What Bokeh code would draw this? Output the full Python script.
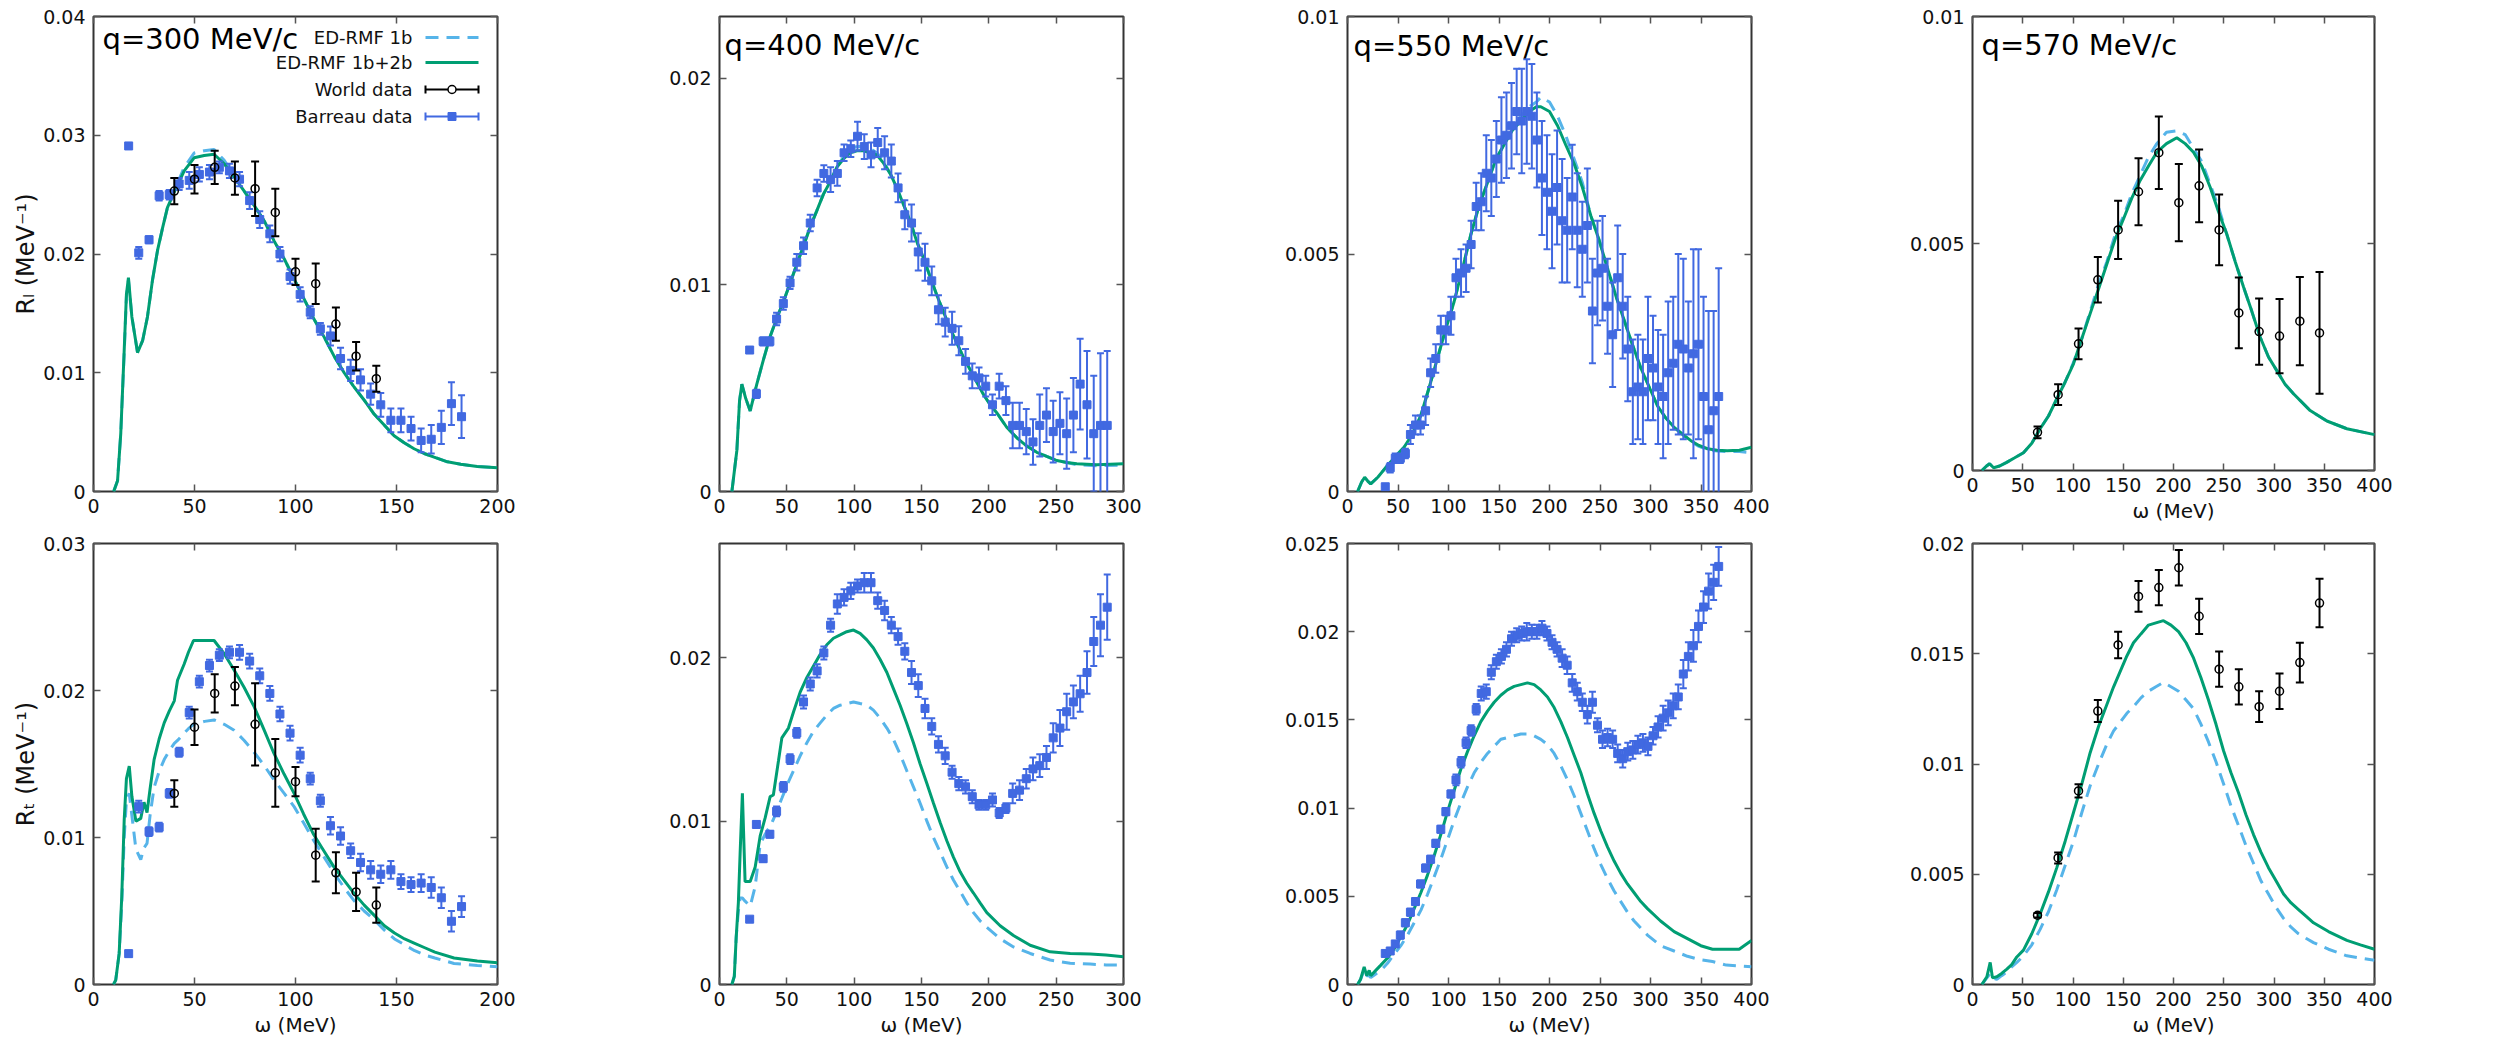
import math
from bokeh.plotting import figure
from bokeh.layouts import row, column
from bokeh.models import ColumnDataSource, Range1d, FixedTicker, LinearAxis, Label, CustomJSTickFormatter
from bokeh.embed import file_html
from bokeh.resources import INLINE

FONT = "DejaVu Sans"
GREEN = "#009e73"
SKY = "#56b4e9"
BLUE = "#4169e1"

x_ticks_200 = [0, 50, 100, 150, 200]
x_ticks_300 = [0, 50, 100, 150, 200, 250, 300]
x_ticks_400 = [0, 50, 100, 150, 200, 250, 300, 350, 400]

titles = ["q=300 MeV/c", "q=400 MeV/c", "q=550 MeV/c", "q=570 MeV/c"]
legend_labels = ["ED-RMF 1b", "ED-RMF 1b+2b", "World data", "Barreau data"]
y_label_L = "R\u2097 (MeV\u207b\u00b9)"
y_label_T = "R\u209c (MeV\u207b\u00b9)"
x_label = "ω (MeV)"

# ---------------- R_L theory ----------------
rl300_w = [10, 11.9, 13.5, 15.2, 16.3, 17.3, 19, 21.8, 24.3, 26.7, 29.2, 31.7, 34.2, 36.6, 39.9, 44.9, 49.8, 54.8, 59.7, 64.7,
           69.6, 74.6, 79.5, 84.5, 89.4, 94.4, 99.3, 104.3, 109.2, 114.2, 119.1, 124.1, 129, 134, 139, 143.9, 148.8, 153.8, 158.7, 163.7,
           168.6, 175.2, 181.8, 190, 200]
rl300_1b2b = [0, 0.0009, 0.0049, 0.0119, 0.0166, 0.0180, 0.0147, 0.0117, 0.0127, 0.0147, 0.0178, 0.0203, 0.0222, 0.0239, 0.0252, 0.0270, 0.0281, 0.0283, 0.0284, 0.0276,
              0.0265, 0.0253, 0.0241, 0.0228, 0.0211, 0.0196, 0.0179, 0.0162, 0.0145, 0.0130, 0.0114, 0.0100, 0.0088, 0.0077, 0.0065, 0.0056, 0.0047, 0.0041, 0.0036, 0.0032,
              0.0029, 0.0025, 0.0023, 0.0021, 0.0020]
rl300_1b = [0, 0.0009, 0.0049, 0.0117, 0.0164, 0.0178, 0.0147, 0.0117, 0.0127, 0.0147, 0.0178, 0.0203, 0.0222, 0.0239, 0.0253, 0.0273, 0.0285, 0.0287, 0.0288, 0.0279,
            0.0266, 0.0253, 0.0241, 0.0228, 0.0211, 0.0196, 0.0179, 0.0162, 0.0145, 0.0130, 0.0114, 0.0100, 0.0088, 0.0077, 0.0065, 0.0056, 0.0047, 0.0041, 0.0036, 0.0032,
            0.0029, 0.0025, 0.0023, 0.0021, 0.0020]

rl400_w = [9.2, 12.9, 14.9, 16.6, 19.5, 22.8, 27.7, 32.7, 37.6, 42.6, 47.5, 52.5, 57.4, 62.4, 67.3, 72.3, 77.2, 82.2, 87.1, 92,
           97, 102, 107, 111.9, 116.8, 121.8, 126.7, 131.7, 136.6, 141.6, 146.5, 151.5, 156.4, 161.4, 166.3, 171.3, 176.2, 181.2, 186.1, 191,
           196, 201, 206, 213.4, 220.8, 228.2, 235.6, 243, 250.5, 257.9, 265.3, 280.2, 300]
rl400_1b2b = [0, 0.0020, 0.0044, 0.0052, 0.0045, 0.0039, 0.0052, 0.0064, 0.0075, 0.0084, 0.0092, 0.0101, 0.0110, 0.0119, 0.0128, 0.0136, 0.0144, 0.0150, 0.0157, 0.0161,
              0.0164, 0.0165, 0.0165, 0.0164, 0.0163, 0.0159, 0.0154, 0.0147, 0.0139, 0.0131, 0.0121, 0.0113, 0.0104, 0.0095, 0.0087, 0.0079, 0.0072, 0.0065, 0.0059, 0.0053,
              0.0047, 0.0042, 0.0038, 0.0031, 0.0026, 0.0022, 0.0019, 0.0017, 0.0015, 0.0014, 0.00134, 0.0013, 0.00134]
rl400_1b = [0, 0.0020, 0.0044, 0.0052, 0.0045, 0.0039, 0.0052, 0.0064, 0.0075, 0.0084, 0.0092, 0.0101, 0.0110, 0.0119, 0.0128, 0.0136, 0.0144, 0.0150, 0.0157, 0.0162,
            0.0166, 0.0167, 0.0167, 0.0166, 0.0164, 0.0160, 0.0154, 0.0147, 0.0139, 0.0131, 0.0121, 0.0113, 0.0104, 0.0095, 0.0087, 0.0079, 0.0072, 0.0065, 0.0059, 0.0053,
            0.0047, 0.0042, 0.0038, 0.0031, 0.0026, 0.0022, 0.0019, 0.0017, 0.0015, 0.0014, 0.0013, 0.00125, 0.00128]

rl550_w = [10, 14, 17, 20, 23, 30, 39.6, 48, 56, 64, 72.6, 81, 89, 97, 105.6, 114, 122, 130, 138.6, 147,
           155, 163, 171.6, 180, 187, 191.4, 200, 208, 216, 224.4, 232.6, 241, 249, 257.4, 266, 274, 282, 290.4, 298.7, 307,
           315, 323.4, 332, 340, 348, 356.4, 366, 376, 388, 400]
rl550_1b2b = [0, 0.0002, 0.0003, 0.00022, 0.00016, 0.0003, 0.00055, 0.00075, 0.00093, 0.0012, 0.0016, 0.0022, 0.0028, 0.0034, 0.0040, 0.0047, 0.0054, 0.0060, 0.0065, 0.0070,
              0.0073, 0.0076, 0.0078, 0.0080, 0.0081, 0.0081, 0.0080, 0.0077, 0.0073, 0.0069, 0.0064, 0.0058, 0.0053, 0.0047, 0.0041, 0.0036, 0.0031, 0.0026, 0.0022, 0.0018,
              0.00155, 0.00135, 0.0012, 0.00107, 0.00097, 0.0009, 0.00087, 0.00086, 0.00087, 0.00093]
rl550_1b = [0, 0.0002, 0.0003, 0.00022, 0.00016, 0.0003, 0.00055, 0.00075, 0.00093, 0.0012, 0.0016, 0.0022, 0.0028, 0.0034, 0.0040, 0.0047, 0.0054, 0.0060, 0.0065, 0.0070,
            0.0073, 0.0076, 0.0079, 0.0081, 0.0082, 0.0083, 0.0082, 0.0079, 0.0075, 0.0070, 0.0065, 0.0058, 0.0053, 0.0047, 0.0041, 0.0036, 0.0031, 0.0026, 0.0022, 0.0018,
            0.00155, 0.00135, 0.0012, 0.00105, 0.00095, 0.00088, 0.00085, 0.00084, 0.00084, 0.00082]

rl570_w = [9.3, 14, 17, 21, 27, 34, 42, 50.7, 59, 67.3, 75.6, 83.9, 92.2, 100.5, 108.7, 117, 125.4, 133.7, 142, 150.2,
           158.5, 166.8, 175, 183.4, 193, 203.3, 211.6, 219.9, 228.2, 236.5, 244.8, 253, 261.4, 269.7, 278, 286.2, 294.5, 302.8, 311, 319.4,
           336, 352.6, 372.5, 400]
rl570_1b2b = [0, 0.0001, 0.00015, 0.00006, 0.0001, 0.00018, 0.00028, 0.00039, 0.0006, 0.00092, 0.0012, 0.00158, 0.00195, 0.00235, 0.0029, 0.00345, 0.0040, 0.00455, 0.0051, 0.00554,
              0.0060, 0.00639, 0.0067, 0.00701, 0.0072, 0.00733, 0.0072, 0.00701, 0.0067, 0.00624, 0.0057, 0.00521, 0.0046, 0.00404, 0.0035, 0.00294, 0.0025, 0.0022, 0.0019, 0.00169,
              0.00132, 0.00109, 0.00092, 0.00079]
rl570_1b = [0, 0.0001, 0.00015, 0.00006, 0.0001, 0.00018, 0.00028, 0.00039, 0.0006, 0.00092, 0.0012, 0.00158, 0.00195, 0.00238, 0.0029, 0.0035, 0.0041, 0.0046, 0.0052, 0.0056,
            0.0061, 0.0065, 0.0069, 0.0072, 0.00745, 0.00748, 0.0074, 0.0071, 0.0068, 0.0063, 0.0058, 0.0052, 0.0046, 0.00404, 0.0035, 0.00294, 0.0025, 0.0022, 0.0019, 0.00169,
            0.00132, 0.00109, 0.00092, 0.00079]

# ---------------- R_T theory ----------------
rt300_w = [9.9, 11, 12.7, 14, 15.2, 16.3, 17.7, 19, 21, 23.4, 25, 26.5, 28, 30, 32.5, 35, 37.5, 40, 41.6, 44.9,
           47, 49.5, 55, 59.7, 64.7, 69.6, 74.6, 79.5, 84.5, 89.4, 94.4, 99.3, 104, 109, 114, 119, 124, 129, 134, 139,
           144, 149, 154, 159, 164, 169, 178.5, 190, 200]
rt300_1b2b = [0, 0.0003, 0.0021, 0.0060, 0.0112, 0.0140, 0.01485, 0.0128, 0.0111, 0.0113, 0.0124, 0.0117, 0.0133, 0.0153, 0.0167, 0.0178, 0.0186, 0.0193, 0.0207, 0.0218,
              0.0226, 0.0234, 0.0234, 0.0234, 0.0225, 0.0214, 0.0202, 0.0189, 0.0173, 0.0157, 0.0143, 0.0130, 0.0116, 0.0102, 0.0091, 0.0080, 0.0071, 0.0062, 0.0054, 0.0047,
              0.0040, 0.0035, 0.0031, 0.0028, 0.0025, 0.0022, 0.0018, 0.0016, 0.00148]
rt300_1b = [0, 0.0003, 0.0021, 0.0055, 0.0100, 0.0125, 0.0130, 0.0115, 0.0092, 0.0085, 0.0093, 0.0096, 0.0115, 0.0134, 0.0145, 0.0153, 0.0159, 0.0164, 0.0166, 0.0171,
            0.0174, 0.0177, 0.0179, 0.0180, 0.0177, 0.0173, 0.0166, 0.0158, 0.0149, 0.0139, 0.0130, 0.0121, 0.0110, 0.0098, 0.0087, 0.0076, 0.0066, 0.0057, 0.0050, 0.0044,
            0.0037, 0.0031, 0.0027, 0.0023, 0.0020, 0.0018, 0.00143, 0.0013, 0.0012]

rt400_w = [9.2, 11, 12.4, 14, 15.3, 17, 19, 22.8, 26.5, 30.2, 33.9, 37.6, 40, 43.8, 46.3, 51.2, 55, 59.9, 64.9, 69.8,
           74.7, 79.7, 84.6, 89.6, 94.5, 99.5, 104.4, 109.4, 114.3, 119.3, 124.3, 129.2, 134.1, 139, 144, 149, 154, 158.9, 163.9, 168.8,
           173.7, 178.7, 183.6, 188.6, 193.5, 198.5, 208.4, 218.3, 230.7, 245.5, 260.4, 275.2, 287, 300]
rt400_1b2b = [0, 0.0005, 0.0029, 0.0050, 0.0080, 0.0117, 0.0063, 0.0063, 0.0072, 0.0091, 0.0102, 0.0115, 0.0116, 0.0137, 0.0151, 0.0157, 0.0167, 0.0179, 0.0188, 0.0195,
              0.0202, 0.0208, 0.0212, 0.0214, 0.0216, 0.0217, 0.0215, 0.0211, 0.0206, 0.0199, 0.0191, 0.0181, 0.0171, 0.0160, 0.0148, 0.0135, 0.0123, 0.0111, 0.0099, 0.0088,
              0.0078, 0.0069, 0.0062, 0.0056, 0.0050, 0.0044, 0.0036, 0.0030, 0.0024, 0.0020, 0.0019, 0.00186, 0.0018, 0.0017]
rt400_1b = [0, 0.0005, 0.0029, 0.0045, 0.0053, 0.0053, 0.0051, 0.0048, 0.0060, 0.0086, 0.0092, 0.0097, 0.0101, 0.0109, 0.0114, 0.0124, 0.0131, 0.0140, 0.0148, 0.0155,
            0.0160, 0.0165, 0.0169, 0.0171, 0.0172, 0.0173, 0.0172, 0.0171, 0.0168, 0.0163, 0.0157, 0.0150, 0.0141, 0.0131, 0.0121, 0.0111, 0.0100, 0.0090, 0.0081, 0.0072,
            0.0064, 0.0057, 0.0050, 0.0044, 0.0039, 0.0035, 0.0028, 0.0023, 0.0019, 0.0015, 0.0013, 0.00125, 0.0012, 0.0012]

rt550_w = [10, 13, 16.5, 19, 21.5, 23, 28, 33, 39.6, 46, 52.8, 59.4, 66, 72.6, 79.2, 85.8, 92.4, 99, 105.6, 112.2,
           118.8, 125.4, 132, 138.6, 145.2, 151.8, 158.4, 165, 171.6, 178.2, 184.8, 191.4, 198, 204.6, 211.2, 217.8, 224.4, 231, 237.6, 244.2,
           250.8, 257.4, 264, 270.6, 277.2, 283.8, 290.4, 297, 310, 323.4, 336.6, 349.8, 361.4, 375, 387.8, 400]
rt550_1b2b = [0, 0.0003, 0.0010, 0.0005, 0.0008, 0.0005, 0.0008, 0.0011, 0.0015, 0.0020, 0.0027, 0.0034, 0.0043, 0.0052, 0.0062, 0.0073, 0.0085, 0.0098, 0.0110, 0.0122,
              0.0132, 0.0141, 0.0149, 0.0155, 0.0160, 0.0164, 0.0167, 0.0169, 0.0170, 0.0171, 0.0170, 0.0167, 0.0163, 0.0157, 0.0149, 0.0140, 0.0130, 0.0120, 0.0108, 0.0097,
              0.0087, 0.0078, 0.0070, 0.0063, 0.0057, 0.0052, 0.0047, 0.0043, 0.0036, 0.0030, 0.0026, 0.0022, 0.0020, 0.0020, 0.0020, 0.0025]
rt550_1b = [0, 0.0003, 0.0008, 0.0005, 0.0005, 0.0004, 0.0006, 0.0008, 0.0012, 0.0017, 0.0022, 0.0028, 0.0035, 0.0042, 0.0051, 0.0061, 0.0071, 0.0082, 0.0093, 0.0103,
            0.0112, 0.0120, 0.0126, 0.0131, 0.0135, 0.0139, 0.0140, 0.0141, 0.0142, 0.0142, 0.0141, 0.0139, 0.0136, 0.0131, 0.0124, 0.0116, 0.0107, 0.0097, 0.0087, 0.0077,
            0.0068, 0.0060, 0.0053, 0.0047, 0.0041, 0.0036, 0.0032, 0.0028, 0.0022, 0.0019, 0.0016, 0.0014, 0.0013, 0.0011, 0.00105, 0.0010]

rt570_w = [9.3, 14.3, 17.6, 19.9, 24.2, 29, 34.2, 39, 44.1, 50.7, 59, 67.3, 75.6, 83.9, 92.2, 100.5, 108.8, 117, 125.4, 133.7,
           140.4, 147, 153.6, 160.2, 167.6, 175.1, 182.5, 190, 197.5, 205, 212.5, 220, 227.4, 234.8, 242.3, 249.8, 257.2, 264.7, 272.1, 279.6,
           287, 294.5, 302, 309.5, 317, 324.4, 331.8, 339.3, 354.2, 372.5, 386, 400]
rt570_1b2b = [0, 0.00035, 0.0010, 0.0003, 0.00035, 0.0005, 0.0007, 0.0009, 0.00125, 0.00156, 0.0023, 0.0032, 0.0042, 0.0053, 0.0065, 0.0078, 0.0091, 0.0105, 0.0117, 0.0127,
              0.0135, 0.0142, 0.0149, 0.0155, 0.0159, 0.0163, 0.0164, 0.0165, 0.0163, 0.0160, 0.0155, 0.0148, 0.0139, 0.0129, 0.0118, 0.0106, 0.0096, 0.0087, 0.0077, 0.0068,
              0.0060, 0.0053, 0.0047, 0.0041, 0.0037, 0.0034, 0.0031, 0.0028, 0.0024, 0.0020, 0.0018, 0.0016]
rt570_1b = [0, 0.0003, 0.0005, 0.0003, 0.00023, 0.0004, 0.00057, 0.0008, 0.0010, 0.0013, 0.0018, 0.0025, 0.0033, 0.0043, 0.0054, 0.0065, 0.0078, 0.0090, 0.0100, 0.0109,
            0.0115, 0.0119, 0.0123, 0.0126, 0.0130, 0.0133, 0.0135, 0.0137, 0.0135, 0.0133, 0.0129, 0.0125, 0.0118, 0.0110, 0.0101, 0.0091, 0.0081, 0.0072, 0.0063, 0.0055,
            0.0047, 0.0041, 0.0035, 0.0030, 0.0026, 0.0023, 0.0021, 0.0019, 0.0016, 0.0013, 0.0012, 0.0011]

# ---------------- Barreau data ----------------
bar300_w = [17.4, 22.4, 27.5, 32.5, 37.5, 42.4, 47.4, 52.4, 57.4, 62.3, 67.3, 72.3, 77.3, 82.3, 87.3, 92.3, 97.3, 102.3, 107.3, 112.3,
            117.3, 122.3, 127.3, 132.2, 137.2, 142.2, 147.2, 152.2, 157.2, 162.2, 167.2, 172.2, 177.2, 182.2]
bar300_rl = [0.0291, 0.0201, 0.0212, 0.0249, 0.0250, 0.0259, 0.0262, 0.0267, 0.0269, 0.0273, 0.0270, 0.0263, 0.0245, 0.0229, 0.0217, 0.0200, 0.0181, 0.0166, 0.0151, 0.0137,
             0.0131, 0.0112, 0.0102, 0.0094, 0.0082, 0.0073, 0.0060, 0.0060, 0.0053, 0.0043, 0.0044, 0.0054, 0.0074, 0.0063]
bar300_rl_err = [0.0002, 0.0005, 0.0003, 0.0004, 0.0004, 0.0005, 0.0007, 0.0006, 0.0006, 0.0005, 0.0006, 0.0006, 0.0007, 0.0007, 0.0007, 0.0006, 0.0006, 0.0006, 0.0005, 0.0005,
                 0.0008, 0.0009, 0.0009, 0.0009, 0.0009, 0.0010, 0.0010, 0.0010, 0.0010, 0.0010, 0.0012, 0.0014, 0.0018, 0.0018]
bar300_rt = [0.0021, 0.0121, 0.0104, 0.0107, 0.0130, 0.0158, 0.0185, 0.0206, 0.0217, 0.0224, 0.0226, 0.0226, 0.0220, 0.0210, 0.0198, 0.0184, 0.0171, 0.0156, 0.0140, 0.0125,
             0.0108, 0.0101, 0.0091, 0.0083, 0.0078, 0.0075, 0.0078, 0.0070, 0.0068, 0.0069, 0.0066, 0.0059, 0.0043, 0.0053]
bar300_rt_err = [0.0002, 0.0004, 0.0003, 0.0003, 0.0003, 0.0003, 0.0004, 0.0004, 0.0004, 0.0004, 0.0004, 0.0005, 0.0005, 0.0005, 0.0005, 0.0005, 0.0005, 0.0005, 0.0004, 0.0004,
                 0.0006, 0.0006, 0.0005, 0.0006, 0.0006, 0.0006, 0.0006, 0.0005, 0.0005, 0.0006, 0.0007, 0.0007, 0.0007, 0.0007]

bar400_w = [22.4, 27.4, 32.4, 37.4, 42.4, 47.4, 52.4, 57.4, 62.4, 67.4, 72.5, 77.5, 82.5, 87.5, 92.5, 97.5, 102.5, 107.5, 112.5, 117.5,
            122.6, 127.6, 132.6, 137.6, 142.6, 147.6, 152.6, 157.6, 162.6, 167.6, 172.7, 177.7, 182.7, 187.7, 192.7, 197.7, 202.7, 207.7, 212.7, 217.7,
            222.8, 227.8, 232.8, 237.8, 242.8, 247.8, 252.8, 257.8, 262.8, 267.8, 272.9, 277.9, 282.9, 287.9]
bar400_rl = [0.00685, 0.00473, 0.00727, 0.00727, 0.00835, 0.0091, 0.0101, 0.0111, 0.0119, 0.0130, 0.0147, 0.0154, 0.0151, 0.0154, 0.0164, 0.0166, 0.0172, 0.0167, 0.0163, 0.0169,
             0.0164, 0.0160, 0.0147, 0.0134, 0.0130, 0.0116, 0.0111, 0.0102, 0.0088, 0.0082, 0.0079, 0.0073, 0.0063, 0.0056, 0.0055, 0.0051, 0.0042, 0.0051, 0.0044, 0.0032,
             0.0032, 0.0029, 0.0024, 0.0032, 0.0037, 0.0029, 0.0033, 0.0028, 0.0037, 0.0052, 0.0042, 0.0028, 0.0032, 0.0032]
bar400_rl_err = [0.0001, 0.0002, 0.0002, 0.0002, 0.0003, 0.0003, 0.0003, 0.0004, 0.0004, 0.0004, 0.0004, 0.0004, 0.0006, 0.0006, 0.0004, 0.0004, 0.0007, 0.0006, 0.0006, 0.0007,
                 0.0008, 0.0008, 0.0007, 0.0007, 0.0009, 0.0009, 0.0009, 0.0007, 0.0007, 0.0007, 0.0008, 0.0007, 0.0006, 0.0006, 0.0005, 0.0005, 0.0005, 0.0006, 0.0007, 0.0011,
                 0.0011, 0.0011, 0.0011, 0.0015, 0.0013, 0.0015, 0.0015, 0.0017, 0.0018, 0.0022, 0.0026, 0.0028, 0.0035, 0.0036]
bar400_rt = [0.0040, 0.0098, 0.0077, 0.0092, 0.0106, 0.0121, 0.0138, 0.0154, 0.0173, 0.0184, 0.0192, 0.0203, 0.0220, 0.0233, 0.0237, 0.0241, 0.0244, 0.0246, 0.0246, 0.0235,
             0.0229, 0.0220, 0.0213, 0.0204, 0.0191, 0.0183, 0.0169, 0.0158, 0.0147, 0.0140, 0.0130, 0.0123, 0.0121, 0.0115, 0.0110, 0.0110, 0.0113, 0.0105, 0.0108, 0.0117,
             0.0119, 0.0126, 0.0132, 0.0134, 0.0139, 0.0151, 0.0157, 0.0167, 0.0173, 0.0178, 0.0191, 0.0210, 0.0220, 0.0231]
bar400_rt_err = [0.0001, 0.0002, 0.0002, 0.0002, 0.0003, 0.0003, 0.0003, 0.0003, 0.0004, 0.0004, 0.0004, 0.0004, 0.0004, 0.0006, 0.0005, 0.0005, 0.0004, 0.0006, 0.0006, 0.0005,
                 0.0006, 0.0005, 0.0005, 0.0005, 0.0007, 0.0007, 0.0006, 0.0005, 0.0005, 0.0005, 0.0004, 0.0004, 0.0004, 0.0004, 0.0003, 0.0003, 0.0004, 0.0003, 0.0003, 0.0006,
                 0.0006, 0.0006, 0.0007, 0.0007, 0.0007, 0.0009, 0.0011, 0.0011, 0.0010, 0.0011, 0.0013, 0.0015, 0.0019, 0.0020]

bar550_w = [37.4, 42.3, 47.3, 52.3, 57.3, 62.3, 67.3, 72.3, 77.3, 82.3, 87.4, 92.4, 97.4, 102.4, 107.4, 112.4, 117.4, 122.4, 127.4, 132.4,
            137.4, 142.4, 147.4, 152.4, 157.4, 162.4, 167.5, 172.5, 177.5, 182.5, 187.5, 192.5, 197.5, 202.5, 207.5, 212.5, 217.5, 222.5, 227.5, 232.5,
            237.5, 242.5, 247.5, 252.5, 257.5, 262.5, 267.5, 272.5, 277.5, 282.5, 287.5, 292.5, 297.5, 302.5, 307.5, 312.5, 317.5, 322.5, 327.5, 332.5,
            337.5, 342.5, 347.5, 352.5, 357.5, 362.5, 367.5]
bar550_rl = [0.0001, 0.0005, 0.0007, 0.0007, 0.0008, 0.0012, 0.0014, 0.0014, 0.0017, 0.0025, 0.0028, 0.0034, 0.0034, 0.0037, 0.0045, 0.0046, 0.0047, 0.0052, 0.0060, 0.0061,
             0.0067, 0.0066, 0.0070, 0.0074, 0.0075, 0.0077, 0.0080, 0.0078, 0.0080, 0.0079, 0.0074, 0.0066, 0.0063, 0.0059, 0.0064, 0.0057, 0.0055, 0.0062, 0.0055, 0.0051,
             0.0056, 0.0038, 0.0046, 0.0047, 0.0039, 0.0033, 0.0045, 0.0039, 0.0030, 0.0021, 0.0022, 0.0021, 0.0028, 0.0026, 0.0022, 0.0020, 0.0025, 0.0027, 0.0031, 0.0030,
             0.0026, 0.0029, 0.0031, 0.0020, 0.0013, 0.0017, 0.0020]
bar550_rl_err = [0.0000, 0.0001, 0.0001, 0.0001, 0.0001, 0.0002, 0.0002, 0.0002, 0.0003, 0.0003, 0.0003, 0.0003, 0.0003, 0.0004, 0.0004, 0.0005, 0.0005, 0.0005, 0.0005, 0.0006,
                 0.0008, 0.0008, 0.0008, 0.0009, 0.0009, 0.0009, 0.0009, 0.0011, 0.0011, 0.0011, 0.0010, 0.0012, 0.0012, 0.0012, 0.0012, 0.0013, 0.0011, 0.0011, 0.0012, 0.0010,
                 0.0012, 0.0011, 0.0011, 0.0011, 0.0010, 0.0011, 0.0011, 0.0011, 0.0011, 0.0011, 0.0011, 0.0011, 0.0013, 0.0011, 0.0012, 0.0013, 0.0015, 0.0014, 0.0019, 0.0019,
                 0.0014, 0.0022, 0.0020, 0.0021, 0.0025, 0.0021, 0.0027]
bar550_rt = [0.00176, 0.0019, 0.0023, 0.0028, 0.0035, 0.0041, 0.0047, 0.0057, 0.0066, 0.0071, 0.0080, 0.0088, 0.0098, 0.0108, 0.0116, 0.0126, 0.0137, 0.0144, 0.0156, 0.0165,
             0.0166, 0.0177, 0.0183, 0.0186, 0.0190, 0.0196, 0.0198, 0.0199, 0.0200, 0.0200, 0.0200, 0.0202, 0.0199, 0.0194, 0.0190, 0.0185, 0.0181, 0.0171, 0.0166, 0.0160,
             0.0153, 0.0160, 0.0147, 0.0139, 0.0140, 0.0139, 0.0131, 0.0128, 0.0132, 0.0133, 0.0136, 0.0137, 0.0135, 0.0141, 0.0146, 0.0151, 0.0154, 0.0158, 0.0163, 0.0176,
             0.0186, 0.0192, 0.0203, 0.0214, 0.0223, 0.0228, 0.0237]
bar550_rt_err = [0.0001, 0.0001, 0.0001, 0.0002, 0.0002, 0.0002, 0.0002, 0.0002, 0.0002, 0.0002, 0.0002, 0.0002, 0.0002, 0.0002, 0.0003, 0.0003, 0.0003, 0.0003, 0.0003, 0.0004,
                 0.0004, 0.0004, 0.0004, 0.0004, 0.0004, 0.0004, 0.0004, 0.0004, 0.0005, 0.0004, 0.0004, 0.0004, 0.0004, 0.0004, 0.0004, 0.0005, 0.0005, 0.0005, 0.0005, 0.0005,
                 0.0005, 0.0006, 0.0004, 0.0005, 0.0005, 0.0005, 0.0005, 0.0005, 0.0005, 0.0005, 0.0005, 0.0005, 0.0005, 0.0005, 0.0006, 0.0007, 0.0007, 0.0007, 0.0007, 0.0008,
                 0.0008, 0.0009, 0.0009, 0.0009, 0.0010, 0.0010, 0.0011]

# ---------------- World data ----------------
world300_w = [40, 50, 60, 70, 80, 90, 100, 110, 120, 130, 140]
world300_rl = [0.0253, 0.0263, 0.0273, 0.0264, 0.0255, 0.0235, 0.0185, 0.0175, 0.0141, 0.0114, 0.0095]
world300_rl_err = [0.0011, 0.0012, 0.0014, 0.0014, 0.0023, 0.0020, 0.0011, 0.0017, 0.0014, 0.0012, 0.0011]
world300_rt = [0.0130, 0.0175, 0.0198, 0.0203, 0.0177, 0.0144, 0.0138, 0.0088, 0.0076, 0.0063, 0.0054]
world300_rt_err = [0.0009, 0.0012, 0.0013, 0.0013, 0.0028, 0.0023, 0.0010, 0.0018, 0.0014, 0.0013, 0.0012]

world570_w = [64.7, 85.2, 105.5, 124.7, 144.9, 165.2, 185.4, 205.3, 225.5, 245.4, 265.0, 285.2, 305.5, 325.7, 345.3]
world570_rl = [0.00084, 0.00167, 0.00279, 0.0042, 0.0053, 0.00614, 0.0070, 0.0059, 0.00627, 0.0053, 0.00347, 0.00306, 0.00296, 0.00329, 0.00303]
world570_rl_err = [0.00013, 0.00023, 0.00034, 0.0005, 0.00064, 0.00074, 0.0008, 0.00085, 0.0008, 0.00078, 0.00078, 0.00073, 0.00082, 0.00097, 0.00134]
world570_rt = [0.00314, 0.00574, 0.00878, 0.0124, 0.0154, 0.0176, 0.0180, 0.0189, 0.0167, 0.0143, 0.0135, 0.0126, 0.0133, 0.0146, 0.0173]
world570_rt_err = [0.0001, 0.00025, 0.0003, 0.0005, 0.0006, 0.0007, 0.0008, 0.0008, 0.0008, 0.0008, 0.0008, 0.0007, 0.0008, 0.0009, 0.0011]


def style_axis(ax, ticks, blank=False, standoff=8):
    ax.ticker = FixedTicker(ticks=ticks)
    ax.major_tick_in = 7
    ax.major_tick_out = 0
    ax.minor_tick_line_color = None
    ax.axis_line_color = None
    ax.major_tick_line_color = "#555555"
    ax.major_tick_line_width = 1.5
    ax.major_label_text_font = FONT
    ax.major_label_text_font_size = "19px"
    ax.major_label_text_color = "#111111"
    ax.major_label_standoff = standoff
    if blank:
        ax.formatter = CustomJSTickFormatter(code="return '';")
        ax.major_label_standoff = 0
        ax.major_label_text_font_size = "1px"


def make_panel(cfg):
    fw = cfg["w"] - cfg["bl"] - cfg["br"]
    fh = cfg["h"] - cfg["bt"] - cfg["bb"]
    p = figure(width=cfg["w"], height=cfg["h"],
               x_range=Range1d(0, cfg["xmax"]), y_range=Range1d(0, cfg["ymax"]),
               output_backend="svg", toolbar_location=None,
               min_border_left=cfg["bl"], min_border_right=cfg["br"],
               min_border_top=cfg["bt"], min_border_bottom=cfg["bb"])
    p.grid.visible = False
    p.outline_line_color = "#333333"
    p.outline_line_width = 2
    p.background_fill_color = "white"
    p.border_fill_color = "white"
    style_axis(p.xaxis[0], cfg["xt"], standoff=7)
    style_axis(p.yaxis[0], cfg["yt"], standoff=8)
    p.yaxis[0].formatter = CustomJSTickFormatter(code="return String(tick);")
    if cfg.get("xlabel"):
        ax = p.xaxis[0]
        ax.axis_label = x_label
        ax.axis_label_text_font = FONT
        ax.axis_label_text_font_size = "20px"
        ax.axis_label_text_font_style = "normal"
        ax.axis_label_text_color = "#111111"
        ax.axis_label_standoff = 4
    if cfg.get("ylabel"):
        ay = p.yaxis[0]
        ay.axis_label = cfg["ylabel"]
        ay.axis_label_text_font = FONT
        ay.axis_label_text_font_size = "24px"
        ay.axis_label_text_font_style = "normal"
        ay.axis_label_text_color = "#111111"
        ay.axis_label_standoff = 0
    top = LinearAxis()
    style_axis(top, cfg["xt"], blank=True)
    p.add_layout(top, "above")
    right = LinearAxis()
    style_axis(right, cfg["yt"], blank=True)
    p.add_layout(right, "right")
    return p, fw, fh


def add_theory(p, w, one_b, two_b):
    p.line(w, one_b, line_color=SKY, line_width=3, line_dash="13 8")
    p.line(w, two_b, line_color=GREEN, line_width=3)


def add_data(p, w, y, e, color, kind):
    src = ColumnDataSource(dict(x=w, y=y,
                                lo=[a - b for a, b in zip(y, e)],
                                hi=[a + b for a, b in zip(y, e)]))
    p.segment(x0="x", y0="lo", x1="x", y1="hi", source=src, line_color=color, line_width=2)
    cap = 7 if kind == "square" else 8
    p.scatter(x="x", y="lo", marker="dash", size=cap, line_color=color, line_width=2, source=src)
    p.scatter(x="x", y="hi", marker="dash", size=cap, line_color=color, line_width=2, source=src)
    if kind == "square":
        p.scatter(x="x", y="y", marker="square", size=8, fill_color=color, line_color=color, source=src)
    else:
        p.scatter(x="x", y="y", marker="circle", size=8, fill_color=None, line_color=color, line_width=1.5, source=src)


def add_title(p, text, dx, dy, fh):
    p.add_layout(Label(x=dx, y=fh - dy, x_units="screen", y_units="screen", text=text,
                       text_font=FONT, text_font_size="29px", text_baseline="middle",
                       text_align="left", text_color="black"))


def add_legend(p, fw, fh, xmax, ymax):
    rows_px = [21, 46, 73, 100]           # distance below frame top
    text_right = 319                      # distance from frame left
    s0, s1 = 332, 385                     # sample line extent from frame left
    lx0 = s0 / fw * xmax
    lx1 = s1 / fw * xmax
    lxm = (lx0 + lx1) / 2
    for lab, rp in zip(legend_labels, rows_px):
        p.add_layout(Label(x=text_right, y=fh - rp, x_units="screen", y_units="screen", text=lab,
                           text_font=FONT, text_font_size="18px", text_baseline="middle",
                           text_align="right", text_color="#111111"))
    ys = [(fh - rp) / fh * ymax for rp in rows_px]
    p.line([lx0, lx1], [ys[0], ys[0]], line_color=SKY, line_width=3, line_dash="13 8")
    p.line([lx0, lx1], [ys[1], ys[1]], line_color=GREEN, line_width=3)
    for yy, col, kind in [(ys[2], "black", "circle"), (ys[3], BLUE, "square")]:
        p.line([lx0, lx1], [yy, yy], line_color=col, line_width=2)
        p.scatter([lx0, lx1], [yy, yy], marker="dash", angle=math.pi / 2, size=8, line_color=col, line_width=2)
        if kind == "square":
            p.scatter([lxm], [yy], marker="square", size=8, fill_color=col, line_color=col)
        else:
            p.scatter([lxm], [yy], marker="circle", size=8, fill_color="white", line_color=col, line_width=1.5)


cfgs = [
    dict(w=630, h=524, bl=93, br=133, bt=16, bb=33, xmax=200, ymax=0.04, xt=x_ticks_200, yt=[0, 0.01, 0.02, 0.03, 0.04], ylabel=y_label_L),
    dict(w=630, h=524, bl=89, br=137, bt=16, bb=33, xmax=300, ymax=0.023, xt=x_ticks_300, yt=[0, 0.01, 0.02]),
    dict(w=620, h=524, bl=87, br=129, bt=16, bb=33, xmax=400, ymax=0.01, xt=x_ticks_400, yt=[0, 0.005, 0.01]),
    dict(w=631, h=530, bl=92, br=137, bt=16, bb=60, xmax=400, ymax=0.01, xt=x_ticks_400, yt=[0, 0.005, 0.01], xlabel=True),
    dict(w=630, h=534, bl=93, br=133, bt=19, bb=74, xmax=200, ymax=0.03, xt=x_ticks_200, yt=[0, 0.01, 0.02, 0.03], xlabel=True, ylabel=y_label_T),
    dict(w=630, h=534, bl=89, br=137, bt=19, bb=74, xmax=300, ymax=0.027, xt=x_ticks_300, yt=[0, 0.01, 0.02], xlabel=True),
    dict(w=620, h=534, bl=87, br=129, bt=19, bb=74, xmax=400, ymax=0.025, xt=x_ticks_400, yt=[0, 0.005, 0.01, 0.015, 0.02, 0.025], xlabel=True),
    dict(w=631, h=528, bl=92, br=137, bt=13, bb=74, xmax=400, ymax=0.02, xt=x_ticks_400, yt=[0, 0.005, 0.01, 0.015, 0.02], xlabel=True),
]

figs = [make_panel(c) for c in cfgs]

# --- top row: R_L ---
p, fw, fh = figs[0]
add_theory(p, rl300_w, rl300_1b, rl300_1b2b)
add_data(p, bar300_w, bar300_rl, bar300_rl_err, BLUE, "square")
add_data(p, world300_w, world300_rl, world300_rl_err, "black", "circle")
add_title(p, titles[0], 9, 22.5, fh)
add_legend(p, fw, fh, cfgs[0]["xmax"], cfgs[0]["ymax"])

p, fw, fh = figs[1]
add_theory(p, rl400_w, rl400_1b, rl400_1b2b)
add_data(p, bar400_w, bar400_rl, bar400_rl_err, BLUE, "square")
add_title(p, titles[1], 5, 28, fh)

p, fw, fh = figs[2]
add_theory(p, rl550_w, rl550_1b, rl550_1b2b)
add_data(p, bar550_w, bar550_rl, bar550_rl_err, BLUE, "square")
add_title(p, titles[2], 6, 29, fh)

p, fw, fh = figs[3]
add_theory(p, rl570_w, rl570_1b, rl570_1b2b)
add_data(p, world570_w, world570_rl, world570_rl_err, "black", "circle")
add_title(p, titles[3], 9, 28, fh)

# --- bottom row: R_T ---
p, fw, fh = figs[4]
add_theory(p, rt300_w, rt300_1b, rt300_1b2b)
add_data(p, bar300_w, bar300_rt, bar300_rt_err, BLUE, "square")
add_data(p, world300_w, world300_rt, world300_rt_err, "black", "circle")

p, fw, fh = figs[5]
add_theory(p, rt400_w, rt400_1b, rt400_1b2b)
add_data(p, bar400_w, bar400_rt, bar400_rt_err, BLUE, "square")

p, fw, fh = figs[6]
add_theory(p, rt550_w, rt550_1b, rt550_1b2b)
add_data(p, bar550_w, bar550_rt, bar550_rt_err, BLUE, "square")

p, fw, fh = figs[7]
add_theory(p, rt570_w, rt570_1b, rt570_1b2b)
add_data(p, world570_w, world570_rt, world570_rt_err, "black", "circle")

P = [f[0] for f in figs]
layout = row(column(P[0], P[4]), column(P[1], P[5]), column(P[2], P[6]), column(P[3], P[7]))

open("out.html", "w").write(file_html(layout, INLINE))
